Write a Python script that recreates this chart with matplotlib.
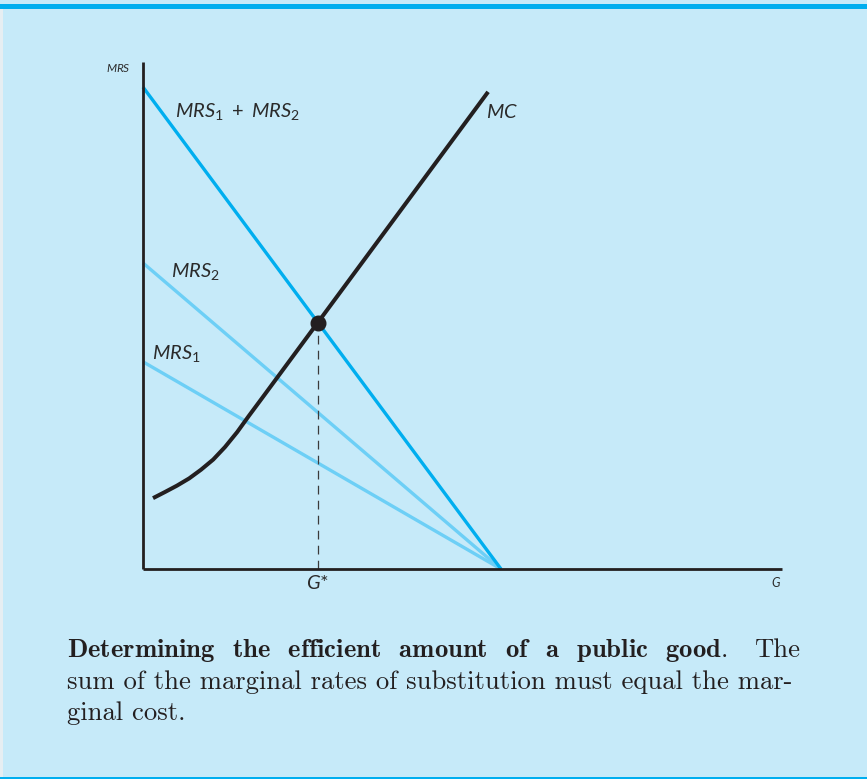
import matplotlib
matplotlib.use("Agg")
import matplotlib.pyplot as plt
from matplotlib.patches import Rectangle

plt.rcParams['mathtext.fontset'] = 'custom'
plt.rcParams['mathtext.it'] = 'Lato:italic'
plt.rcParams['mathtext.rm'] = 'Lato'

# ---- data (arbitrary units) ----
g_intercept = 10.0              # where the MRS lines hit the G axis
mrs_sum_intercept = 10.0        # MRS1 + MRS2 at G = 0
mrs2_intercept = 6.35
mrs1_intercept = 4.30
mc_x = [0.28, 0.62, 0.95, 1.29, 1.62, 1.96, 2.29, 2.63, 2.96, 3.30, 4.89, 9.64]
mc_y = [1.47, 1.60, 1.73, 1.88, 2.06, 2.27, 2.53, 2.84, 3.18, 3.52, 5.12, 9.90]
g_star = 4.89
mrs_star = 5.11
x_max = 17.85
y_max = 10.52

W, H = 867, 779
fig = plt.figure(figsize=(W / 100, H / 100), dpi=100)
bg = '#c6eaf9'
fig.patch.set_facecolor(bg)

def fx(px):
    return px / W

def fy(py):
    return 1 - py / H

# frame decorations
fig.patches.append(Rectangle((0, fy(9)), 1, fy(4) - fy(9), transform=fig.transFigure,
                             facecolor='#00aeef', edgecolor='none'))
fig.patches.append(Rectangle((0, 0), 1, fy(776.5), transform=fig.transFigure,
                             facecolor='#00aeef', edgecolor='none'))
fig.patches.append(Rectangle((0, fy(776.5)), fx(2.5), fy(9) - fy(776.5), transform=fig.transFigure,
                             facecolor='#e6eef2', edgecolor='none'))

ax = fig.add_axes([fx(143), fy(569), fx(782) - fx(143), fy(62) - fy(569)])
ax.set_facecolor('none')
ax.set_xlim(0, x_max)
ax.set_ylim(0, y_max)
for s in ['top', 'right']:
    ax.spines[s].set_visible(False)
for s in ['left', 'bottom']:
    ax.spines[s].set_color('#231f20')
    ax.spines[s].set_linewidth(2.0)
    ax.spines[s].set_capstyle('butt')
ax.set_xticks([])
ax.set_yticks([])

light = '#6dcff6'
cyan = '#00aeef'
dark = '#231f20'

ax.plot([0, g_intercept], [mrs1_intercept, 0], color=light, lw=2.4, solid_capstyle='butt', clip_on=False)
ax.plot([0, g_intercept], [mrs2_intercept, 0], color=light, lw=2.4, solid_capstyle='butt', clip_on=False)
ax.plot([0, g_intercept], [mrs_sum_intercept, 0], color=cyan, lw=2.4, solid_capstyle='butt', clip_on=False)
ax.plot([g_star, g_star], [0, mrs_star], color='#3a3a3a', lw=0.9, dashes=(7, 5))
ax.plot(mc_x, mc_y, color=dark, lw=2.9, solid_capstyle='butt', solid_joinstyle='round')
ax.plot([g_star], [mrs_star], 'o', color=dark, ms=10.5)

tc = '#2b2b2b'
lfs = 14.5
fig.text(fx(118), fy(68), r'$\mathit{MRS}$', fontsize=8.5, color=tc, ha='center', va='center')
fig.text(fx(175), fy(112), r'$\mathit{MRS}_1\ +\ \mathit{MRS}_2$', fontsize=lfs, color=tc, ha='left', va='center')
fig.text(fx(486), fy(112), r'$\mathit{MC}$', fontsize=lfs, color=tc, ha='left', va='center')
fig.text(fx(171), fy(272), r'$\mathit{MRS}_2$', fontsize=lfs, color=tc, ha='left', va='center')
fig.text(fx(152), fy(354), r'$\mathit{MRS}_1$', fontsize=lfs, color=tc, ha='left', va='center')
fig.text(fx(318), fy(583), r'$\mathit{G}$*', fontsize=lfs, color=tc, ha='center', va='center', family='Lato')
fig.text(fx(776), fy(583), r'$\mathit{G}$', fontsize=9, color=tc, ha='center', va='center')

# caption
cap_fs = 19.2
fig.text(fx(67), fy(657),
         r'$\mathbf{Determining\ \,\;the\ \,\;efficient\ \,\;amount\ \,\;of\ \,\;a\ \,\;public\ \,\;good}$.',
         fontsize=cap_fs, family='cmr10', math_fontfamily='cm', color=dark, ha='left', va='baseline')
fig.text(fx(800), fy(657), 'The',
         fontsize=cap_fs, family='cmr10', color=dark, ha='right', va='baseline')
fig.text(fx(67), fy(689), 'sum of the marginal rates of substitution must equal the mar-',
         fontsize=cap_fs, family='cmr10', color=dark, ha='left', va='baseline')
fig.text(fx(67), fy(720), 'ginal cost.',
         fontsize=cap_fs, family='cmr10', color=dark, ha='left', va='baseline')

fig.savefig('out.png', dpi=100, facecolor=fig.get_facecolor())
